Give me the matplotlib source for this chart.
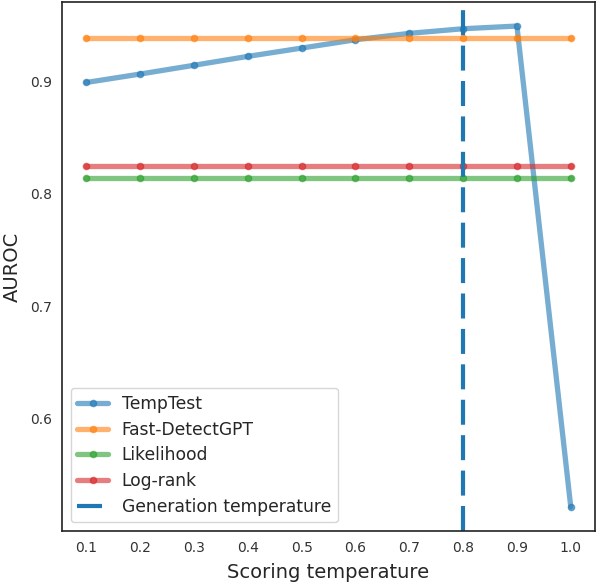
import matplotlib
matplotlib.use("Agg")
import matplotlib.pyplot as plt
import seaborn as sns

sns.set_style("white")
plt.rcParams['font.family'] = ['DejaVu Sans']

temps = [0.1, 0.2, 0.3, 0.4, 0.5, 0.6, 0.7, 0.8, 0.9, 1.0]
temptest = [0.899, 0.9065, 0.9143, 0.9222, 0.9296, 0.937, 0.9427, 0.9468, 0.9492, 0.5215]
fastdetect = [0.9382] * 10
likelihood = [0.814] * 10
logrank = [0.825] * 10
gen_temp = 0.8
xticks = [0.1, 0.2, 0.3, 0.4, 0.5, 0.6, 0.7, 0.8, 0.9, 1.0]
yticks = [0.6, 0.7, 0.8, 0.9]

fig = plt.figure(figsize=(5.96, 5.82), dpi=100)
ax = fig.add_axes([62/596, 1 - 531/582, 533/596, 529/582])

kw = dict(marker='o', markersize=4.5, linewidth=3.8, alpha=0.6)
ax.plot(temps, temptest, color='C0', label='TempTest', **kw)
ax.plot(temps, fastdetect, color='C1', label='Fast-DetectGPT', **kw)
ax.plot(temps, likelihood, color='C2', label='Likelihood', **kw)
ax.plot(temps, logrank, color='C3', label='Log-rank', **kw)
ax.axvline(gen_temp, color='C0', linewidth=3, linestyle=(0, (6, 2.5)), label='Generation temperature')

ax.set_xticks(xticks)
ax.set_xticklabels([f"{t:.1f}" for t in xticks], fontsize=10, color='#333333')
ax.set_yticks(yticks)
ax.set_yticklabels([f"{t:.1f}" for t in yticks], fontsize=10, color='#333333')
ax.set_xlabel('Scoring temperature', fontsize=14, labelpad=6)
ax.set_ylabel('AUROC', fontsize=14, labelpad=6)
for s in ax.spines.values():
    s.set_color('#222222')
    s.set_linewidth(1.2)
ax.legend(loc='lower left', fontsize=12.3, labelspacing=0.45, handlelength=1.8)

fig.savefig('out.png', dpi=100)
